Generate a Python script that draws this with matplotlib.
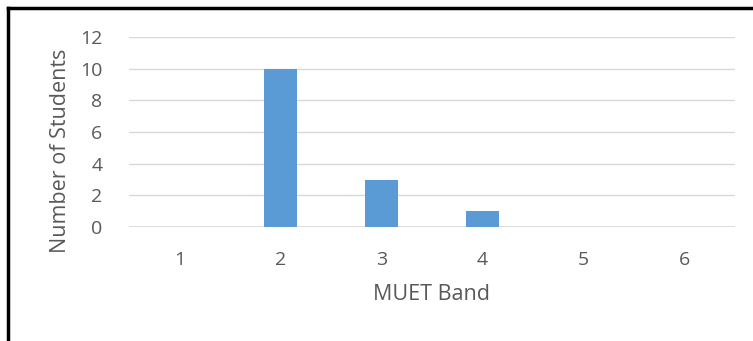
import matplotlib
matplotlib.use("Agg")
import matplotlib.pyplot as plt
from matplotlib.lines import Line2D

bands = ["1", "2", "3", "4", "5", "6"]
students = [0, 10, 3, 1, 0, 0]
yticks = [0, 2, 4, 6, 8, 10, 12]

plt.rcParams['font.family'] = ['Open Sans', 'DejaVu Sans']
W, H = 753, 341
fig = plt.figure(figsize=(W/100, H/100), dpi=100)
ax = fig.add_axes([129/W, 1-227/H, (735-129)/W, (227-37)/H])

x = list(range(len(bands)))
ax.bar(x, students, width=0.32, color='#5B9BD5', zorder=3)
ax.set_xlim(-0.5, len(bands)-0.5)
ax.set_ylim(0, 12)
ax.set_yticks(yticks)
ax.set_xticks(x)
ax.set_xticklabels(bands)
ax.grid(axis='y', color='#D9D9D9', linewidth=1.0, zorder=0)
for s in ax.spines.values():
    s.set_visible(False)
ax.axhline(0, color='#D9D9D9', linewidth=1.2, zorder=1)
ax.tick_params(length=0, labelsize=14, colors='#595959')
ax.tick_params(axis='x', pad=17)
ax.tick_params(axis='y', pad=19)
ax.set_xlabel("MUET Band", fontsize=15.5, color='#595959', labelpad=11)
ax.set_ylabel("Number of Students", fontsize=15.5, color='#595959')
ax.yaxis.set_label_coords((71 - 129) / (735 - 129), (227 - 151) / (227 - 37))

# outer border (top and left)
fig.add_artist(Line2D([8/W, 1], [1-7.5/H, 1-7.5/H], transform=fig.transFigure, color='black', lw=2.5))
fig.add_artist(Line2D([8/W, 8/W], [0, 1-7.5/H], transform=fig.transFigure, color='black', lw=2.5))

fig.savefig("out.png", dpi=100)
